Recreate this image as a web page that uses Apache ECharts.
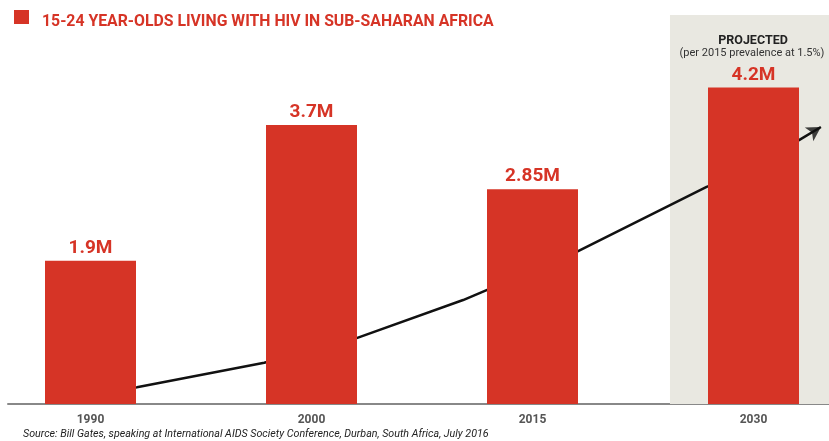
<!DOCTYPE html>
<html><head><meta charset="utf-8">
<script src="https://cdn.jsdelivr.net/npm/echarts@6/dist/echarts.min.js"></script>
<style>html,body{margin:0;padding:0;background:#fff}#c{width:829px;height:441px}</style>
</head><body><div id="c"></div>
<script>
const categories = ['1990', '2000', '2015', '2030'];
const values = [1.9, 3.7, 2.85, 4.2];
// trend arrow path, in (category position, millions)
const trendX = [0.04, 0.21, 0.786, 1.201, 1.686, 2.202, 2.79, 3.206, 3.305];
const trendY = [0.13, 0.221, 0.548, 0.871, 1.379, 2.02, 2.882, 3.501, 3.675];
const titleText = '15-24 YEAR-OLDS LIVING WITH HIV IN SUB-SAHARAN AFRICA';
const projectedTitle = 'PROJECTED';
const projectedNote = '(per 2015 prevalence at 1.5%)';
const sourceText = 'Source: Bill Gates, speaking at International AIDS Society Conference, Durban, South Africa, July 2016';

const RED = '#d63426';
const FONT = 'Roboto, "DejaVu Sans", sans-serif';
const chart = echarts.init(document.getElementById('c'), null, {renderer: 'canvas'});

const barData = values.map((v, i) => [i, v]);
const trend = trendX.map((x, i) => [x, trendY[i]]);
const last = trend[trend.length - 1];

const X_MIN = -0.3733, X_MAX = 3.3416;

chart.setOption({
  animation: false,
  backgroundColor: '#fff',
  title: {
    text: titleText, left: 37, top: 9,
    textStyle: {color: RED, fontFamily: FONT, fontWeight: 'bold', fontSize: 15.8}
  },
  graphic: [
    {type: 'rect', z: 100, shape: {x: 14, y: 10, width: 15, height: 14}, style: {fill: RED}},
    {type: 'text', z: 100, x: 23, y: 429,
      style: {text: sourceText, fill: '#222', font: 'italic 10.7px ' + FONT}},
    {type: 'text', z: 100, x: 753, y: 34, style: {text: projectedTitle, fill: '#222', font: 'bold 12.5px ' + FONT, textAlign: 'center'}},
    {type: 'text', z: 100, x: 752, y: 48, style: {text: projectedNote, fill: '#333', font: '11px ' + FONT, textAlign: 'center'}}
  ],
  grid: {left: 8, right: 0, top: 12, bottom: 37},
  xAxis: {
    type: 'value', min: X_MIN, max: X_MAX,
    splitLine: {show: false},
    axisLine: {show: true, lineStyle: {color: '#888', width: 2}},
    axisTick: {show: false},
    axisLabel: {customValues: [0, 1, 2, 3], formatter: v => categories[Math.round(v)] || '',
      color: '#555', fontFamily: FONT, fontWeight: 'bold', fontSize: 12, margin: 10}
  },
  yAxis: {type: 'value', min: 0, max: 5.2, show: false},
  series: [{
    type: 'bar', data: barData, barWidth: 91, z: 3,
    itemStyle: {color: RED},
    label: {show: true, position: 'top', distance: 3, color: RED,
      fontFamily: FONT, fontWeight: 'bold', fontSize: 19,
      formatter: p => p.value[1] + 'M'},
    markArea: {silent: true, itemStyle: {color: '#e9e8e1'},
      data: [[{xAxis: 2.622, yAxis: 0}, {xAxis: X_MAX, yAxis: 5.16}]]}
  }, {
    type: 'line', data: trend, smooth: false, symbol: 'none', z: 2,
    lineStyle: {color: '#111', width: 2.5}
  }, {
    type: 'scatter', z: 4,
    data: [last], symbol: 'arrow', symbolSize: [12, 14],
    symbolRotate: -58,
    itemStyle: {color: '#111'}
  }]
});
</script></body></html>
